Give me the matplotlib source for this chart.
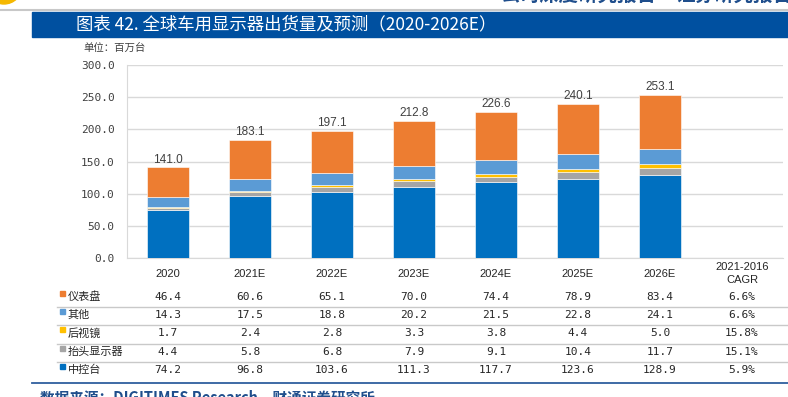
import matplotlib
matplotlib.use('Agg')
import matplotlib.pyplot as plt
import matplotlib.patches as mpatches
import matplotlib.transforms as mtransforms
import numpy as np

plt.rcParams['font.family'] = ['Noto Sans CJK SC', 'DejaVu Sans']

years = ['2020', '2021E', '2022E', '2023E', '2024E', '2025E', '2026E']
console = [74.2, 96.8, 103.6, 111.3, 117.7, 123.6, 128.9]   # 中控台
hud = [4.4, 5.8, 6.8, 7.9, 9.1, 10.4, 11.7]                 # 抬头显示器
mirror = [1.7, 2.4, 2.8, 3.3, 3.8, 4.4, 5.0]                # 后视镜
other = [14.3, 17.5, 18.8, 20.2, 21.5, 22.8, 24.1]          # 其他
dashboard = [46.4, 60.6, 65.1, 70.0, 74.4, 78.9, 83.4]      # 仪表盘
totals = [141.0, 183.1, 197.1, 212.8, 226.6, 240.1, 253.1]
cagr = ['6.6%', '6.6%', '15.8%', '15.1%', '5.9%']
cagr_header = '2021-2016\nCAGR'

W, H = 788, 397
fig = plt.figure(figsize=(W / 100, H / 100), dpi=100)
fig.patch.set_facecolor('white')


def fy(y):
    # pixel row -> figure fraction
    return 1 - y / H


def fx(x):
    return x / W


# header pieces
fig.add_artist(mpatches.Ellipse((fx(4), fy(-14)), 36 / W, 36 / H, color='#F5B800',
                                transform=fig.transFigure))
fig.add_artist(plt.Line2D([0, 1], [fy(10), fy(10)], color='#C8C8C8', lw=1.5,
                          transform=fig.transFigure))
fig.text(fx(500), fy(5), '公司深度研究报告', color='#1F4E8C', fontsize=14,
         fontweight='bold', va='bottom', ha='left')
fig.text(fx(675), fy(5), '证券研究报告', color='#1F4E8C', fontsize=14,
         fontweight='bold', va='bottom', ha='left')

# title bar
fig.add_artist(mpatches.Rectangle((fx(32), fy(36.7)), fx(788 - 32), 25 / H,
                                  color='#0050A0', transform=fig.transFigure))
fig.text(fx(76), fy(24.5), '图表 42. 全球车用显示器出货量及预测（2020-2026E）',
         color='white', fontsize=12.5, va='center', ha='left')

fig.text(fx(83), fy(48), '单位：百万台', color='#404040', fontsize=7.5,
         va='center', ha='left')

# chart
ax = fig.add_axes([fx(127), fy(258.3), fx(656), (258.3 - 65) / H])
x = np.arange(len(years))
series = [
    (console, '中控台', '#0070C0'),
    (hud, '抬头显示器', '#A5A5A5'),
    (mirror, '后视镜', '#FFC000'),
    (other, '其他', '#5B9BD5'),
    (dashboard, '仪表盘', '#ED7D31'),
]
bottom = np.zeros(len(years))
for vals, name, col in series:
    ax.bar(x, vals, width=0.51, bottom=bottom, color=col, edgecolor='white',
           linewidth=0.4, zorder=3)
    bottom += np.array(vals)

for xi, t in zip(x, totals):
    ax.text(xi, t + 3, f'{t:.1f}', ha='center', va='bottom', fontsize=8.5,
            color='#404040', family='Liberation Sans')

ax.set_xlim(-0.5, 7.5)
ax.set_ylim(0, 300)
ax.set_yticks(np.arange(0, 301, 50))
ax.set_yticklabels([f'{v:.1f}' for v in np.arange(0, 301, 50)], fontsize=8,
                   color='#404040', family='DejaVu Sans Mono')
ax.set_xticks([])
ax.tick_params(axis='y', length=0, pad=9)
ax.grid(axis='y', color='#D9D9D9', lw=1, zorder=0)
for s in ['top', 'right']:
    ax.spines[s].set_visible(False)
ax.spines['left'].set_color('#D9D9D9')
ax.spines['bottom'].set_color('#D9D9D9')

# table below the chart
tr = mtransforms.blended_transform_factory(ax.transData, fig.transFigure)
for xi, yr in zip(x, years):
    ax.text(xi, fy(274), yr, transform=tr, ha='center', va='center', fontsize=8,
            color='#262626', family='Liberation Sans', clip_on=False)
ax.text(7, fy(273.5), cagr_header, transform=tr, ha='center', va='center',
        fontsize=8, color='#262626', family='Liberation Sans',
        linespacing=1.45, clip_on=False)

row_y = [296.7, 315, 333.3, 351.7, 370]
rows = [
    (dashboard, '仪表盘', '#ED7D31'),
    (other, '其他', '#5B9BD5'),
    (mirror, '后视镜', '#FFC000'),
    (hud, '抬头显示器', '#A5A5A5'),
    (console, '中控台', '#0070C0'),
]
for (vals, name, col), ry, cg in zip(rows, row_y, cagr):
    fig.add_artist(mpatches.Rectangle((fx(60), fy(ry - 1)), 5 / W, 5 / H,
                                      color=col, transform=fig.transFigure))
    fig.text(fx(68), fy(ry), name, fontsize=8, color='#262626', va='center',
             ha='left')
    for xi, v in zip(x, vals):
        ax.text(xi, fy(ry), f'{v:.1f}', transform=tr, ha='center', va='center',
                fontsize=8, color='#262626', family='DejaVu Sans Mono',
                clip_on=False)
    ax.text(7, fy(ry), cg, transform=tr, ha='center', va='center', fontsize=8,
            color='#262626', family='DejaVu Sans Mono', clip_on=False)

for ly in [306.7, 325.3, 343.5, 361.7]:
    fig.add_artist(plt.Line2D([fx(57), fx(788)], [fy(ly), fy(ly)],
                              color='#C9C9C9', lw=1, transform=fig.transFigure))
fig.add_artist(plt.Line2D([fx(32), fx(788)], [fy(383.3), fy(383.3)],
                          color='#2F5F9E', lw=1.3, transform=fig.transFigure))

fig.text(fx(40), fy(389), '数据来源：DIGITIMES Research，财通证券研究所',
         color='#1F4E8C', fontsize=10.5, fontweight='bold', va='top', ha='left')

fig.savefig('out.png', dpi=100)
